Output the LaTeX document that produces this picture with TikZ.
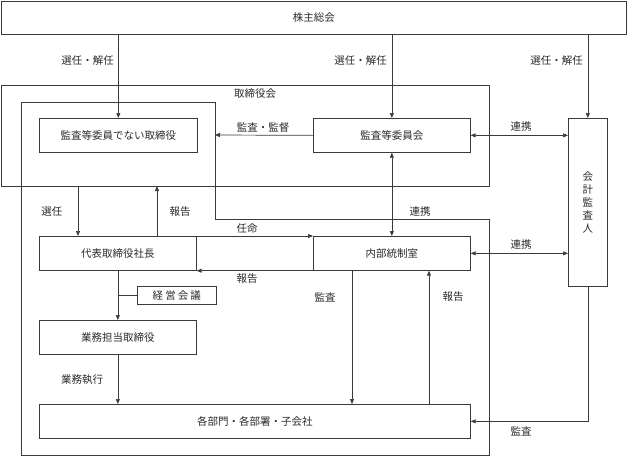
\documentclass[tikz,border=0pt]{standalone}
\usepackage{fontspec}
\newfontfamily\jp{Noto Sans CJK JP}
\usetikzlibrary{arrows.meta}
\definecolor{ln}{HTML}{3A3A3A}
\definecolor{tx}{HTML}{2A2A2A}
\tikzset{
  bx/.style={draw=ln, line width=0.7pt, inner sep=0pt, anchor=north west, font=\jp\fontsize{10.5}{12}\selectfont, text=tx},
  lbl/.style={inner sep=0pt, font=\jp\fontsize{10.5}{12}\selectfont, text=tx},
  con/.style={draw=ln, line width=0.7pt},
  arr/.style={con, -{Triangle[length=5pt,width=4pt]}},
  darr/.style={con, {Triangle[length=5pt,width=4pt]}-{Triangle[length=5pt,width=4pt]}}
}
\begin{document}
\begin{tikzpicture}[x=1pt,y=-1pt]
\useasboundingbox (0,0) rectangle (627,456);
% boxes
\node[bx, minimum width=625pt, minimum height=33pt] (sh) at (1,1) {株主総会};
\node[bx, minimum width=488pt, minimum height=101pt] (tb) at (1,85) {};
\node[lbl] (tbl) at (255,94) {取締役会};
\draw[con] (21,102) -- (215,102) -- (215,219) -- (489,219) -- (489,455) -- (21,455) -- cycle;
\node[bx, minimum width=158pt, minimum height=34pt] (nd) at (39,118) {監査等委員でない取締役};
\node[bx, minimum width=157pt, minimum height=34pt] (ac) at (313,118) {監査等委員会};
\node[bx, minimum width=39pt, minimum height=168pt, align=center, font=\jp\fontsize{10.5}{13}\selectfont] (ka) at (568,118) {会\\計\\監\\査\\人};
\node[bx, minimum width=157pt, minimum height=34pt] (pr) at (39,236) {代表取締役社長};
\node[bx, minimum width=157pt, minimum height=34pt] (ic) at (313,236) {内部統制室};
\node[bx, minimum width=79pt, minimum height=18pt] (km) at (137,286) {\addfontfeature{LetterSpace=20}経営会議};
\node[bx, minimum width=157pt, minimum height=34pt] (gy) at (39,320) {業務担当取締役};
\node[bx, minimum width=431pt, minimum height=34pt] (bu) at (39,404) {各部門・各部署・子会社};
% coordinates
\coordinate (inR) at (215,135);
\coordinate (s1) at (78,186);
\coordinate (r1) at (157,186);
\coordinate (m1) at (352,0);
\coordinate (m2) at (429,0);
% connectors
\draw[arr] (sh.south -| nd.north) -- (nd.north);
\draw[arr] (sh.south -| ac.north) -- (ac.north);
\draw[arr] (sh.south -| ka.north) -- (ka.north);
\draw[arr] (ac.west) -- (inR);
\draw[darr] (ac.east) -- (ac.east -| ka.west);
\draw[darr] (ac.south) -- (ic.north);
\draw[darr] (ic.east) -- (ic.east -| ka.west);
\draw[arr] (s1) -- (s1 |- pr.north);
\draw[arr] (r1 |- pr.north) -- (r1);
\draw[arr] (pr.north east) -- (ic.north west);
\draw[arr] (ic.south west) -- (pr.south east);
\draw[arr] (pr.south) -- (gy.north);
\draw[con] (km.west) -- (pr.south |- km.west);
\draw[arr] (gy.south) -- (bu.north -| gy.south);
\draw[arr] (ic.south -| m1) -- (bu.north -| m1);
\draw[arr] (bu.north -| m2) -- (ic.south -| m2);
\draw[arr] (ka.south) -- (ka.south |- bu.east) -- (bu.east);
% labels
\node[lbl, anchor=east] (l1) at (114,61) {選任・解任};
\node[lbl, anchor=east] (l2) at (387,61) {選任・解任};
\node[lbl, anchor=east] (l3) at (583,61) {選任・解任};
\node[lbl] (l4) at (263,128) {監査・監督};
\node[lbl] (l5) at (521,127) {連携};
\node[lbl] (l6) at (420,212) {連携};
\node[lbl] (l7) at (521,245) {連携};
\node[lbl] (l8) at (52,212) {選任};
\node[lbl] (l9) at (180,212) {報告};
\node[lbl] (l10) at (247,229) {任命};
\node[lbl] (l11) at (247,279) {報告};
\node[lbl] (l12) at (325,297) {監査};
\node[lbl] (l13) at (453,297) {報告};
\node[lbl] (l14) at (82,380) {業務執行};
\node[lbl] (l15) at (521,431) {監査};
\end{tikzpicture}
\end{document}
